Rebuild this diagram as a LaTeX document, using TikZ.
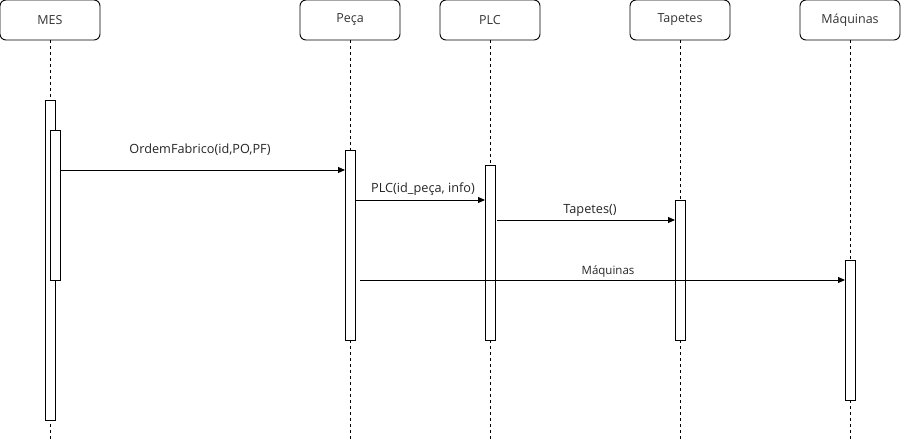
\documentclass[tikz,border=0pt]{standalone}
\usepackage{fontspec}
\setmainfont{Open Sans}
\usetikzlibrary{arrows.meta}
\begin{document}
\begin{tikzpicture}[x=1pt,y=-1pt,
  header/.style={draw, rounded corners=6pt, minimum width=100pt, minimum height=40pt, inner sep=0pt, line width=0.9pt, text=black!80, font=\fontsize{12.5}{14}\selectfont},
  life/.style={dashed, dash pattern=on 3pt off 3pt, line width=0.8pt},
  act/.style={draw, fill=white, line width=0.9pt},
  msg/.style={-{Triangle[length=7pt,width=6pt]}, line width=0.9pt},
  lbl/.style={font=\fontsize{12.7}{14}\selectfont, text=black!85}
]
\useasboundingbox (0,0) rectangle (901,441);
% headers
\node[header] (mes) at (50,20) {MES};
\node[header] (peca) at (350,20) {Peça};
\node[header] (plc) at (490,20) {PLC};
\node[header] (tap) at (680,20) {Tapetes};
\node[header] (maq) at (850,20) {Máquinas};
% lifeline ends
\coordinate (mesE) at (50,441);
\coordinate (pecaE) at (350,441);
\coordinate (plcE) at (490,441);
\coordinate (tapE) at (680,441);
\coordinate (maqE) at (850,441);
\draw[life] (mes.south) -- (mesE);
\draw[life] (peca.south) -- (pecaE);
\draw[life] (plc.south) -- (plcE);
\draw[life] (tap.south) -- (tapE);
\draw[life] (maq.south) -- (maqE);
% activations
\path[act] (45,100) rectangle (55,420);
\path[act] (50,130) rectangle (60,280);
\path[act] (345,150) rectangle (355,340);
\path[act] (485,165) rectangle (495,340);
\path[act] (675,200) rectangle (685,340);
\path[act] (845,260) rectangle (855,400);
% message endpoints
\coordinate (m1s) at (60,170); \coordinate (m1e) at (345,170);
\coordinate (m2s) at (355,200); \coordinate (m2e) at (485,200);
\coordinate (m3s) at (497,220); \coordinate (m3e) at (675,220);
\coordinate (m4s) at (360,280); \coordinate (m4e) at (845,280);
\draw[msg] (m1s) -- (m1e);
\draw[msg] (m2s) -- (m2e);
\draw[msg] (m3s) -- (m3e);
\draw[msg] (m4s) -- (m4e);
\node[lbl] (l1) at (200,150) {OrdemFabrico(id,PO,PF)};
\node[lbl] (l2) at (423,189) {PLC(id\_peça, info)};
\node[lbl] (l3) at (590,210) {Tapetes()};
\node[lbl, font=\fontsize{11.5}{13}\selectfont] (l4) at (608,271) {Máquinas};
\end{tikzpicture}
\end{document}
